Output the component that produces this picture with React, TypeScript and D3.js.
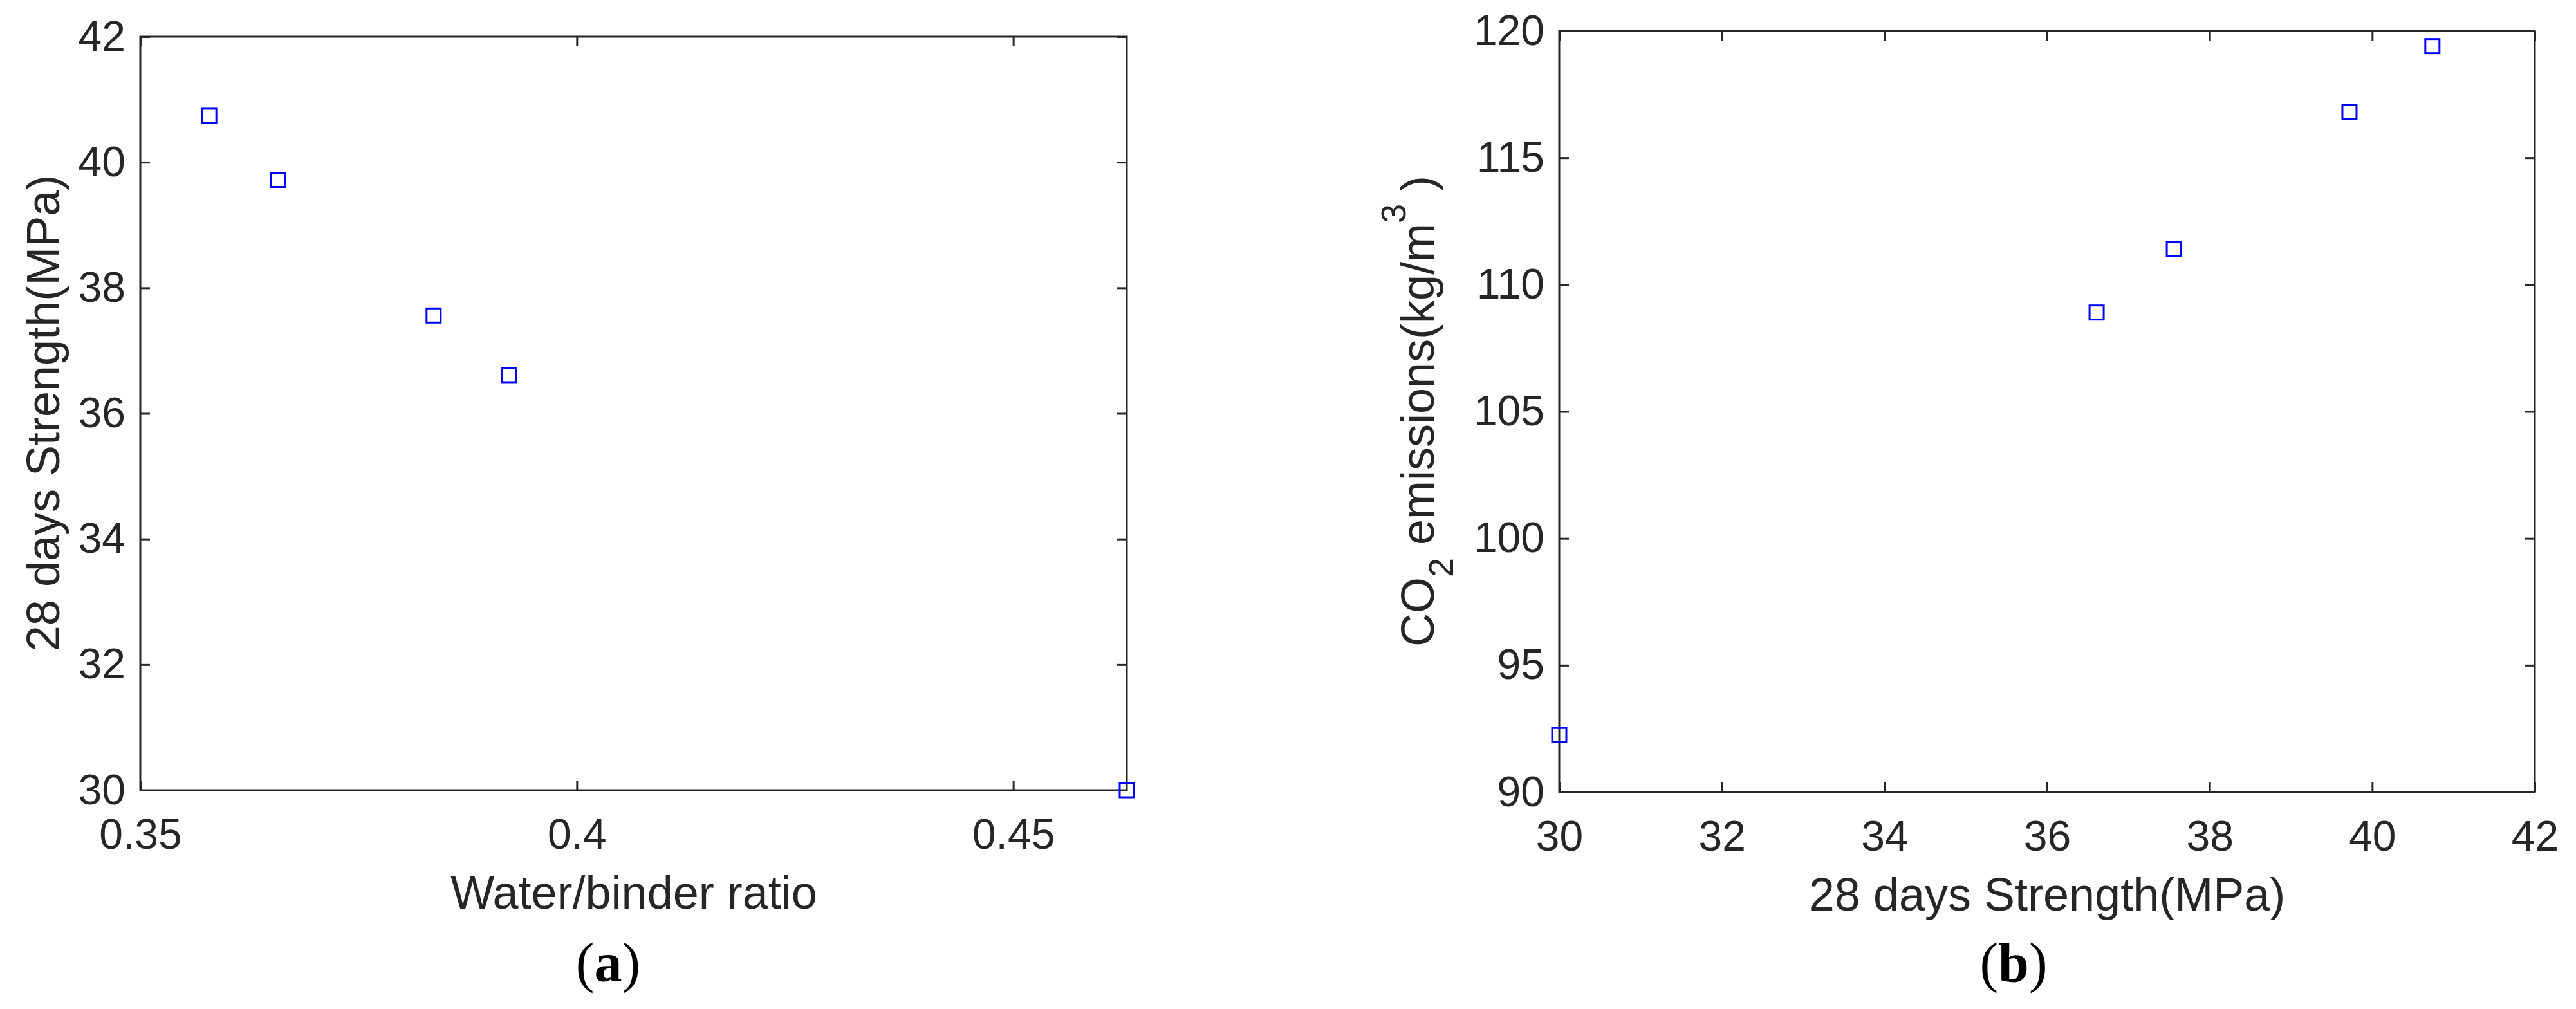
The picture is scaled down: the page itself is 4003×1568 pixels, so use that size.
import * as d3 from "d3";
import { useEffect, useRef } from "react";

// panel (a): water/binder ratio vs 28 day strength
const wbRatio = [0.3579, 0.3658, 0.3836, 0.3922, 0.463];
const strength28 = [40.74, 39.72, 37.56, 36.61, 30.0];
// panel (b): 28 day strength vs CO2 emissions
const co2Emission = [119.4, 116.8, 111.4, 108.9, 92.25];

const xTicksA = [0.35, 0.4, 0.45];
const yTicksA = [30, 32, 34, 36, 38, 40, 42];
const xTicksB = [30, 32, 34, 36, 38, 40, 42];
const yTicksB = [90, 95, 100, 105, 110, 115, 120];

const W = 4003;
const H = 1568;
const axisColor = "#262626";
const fontSans = "'Liberation Sans', Arial, sans-serif";
const fontSerif = "'Liberation Serif', 'Times New Roman', serif";

function drawPanel(
  svg: any,
  box: { left: number; right: number; top: number; bottom: number },
  xDomain: number[],
  yDomain: number[],
  xTicks: number[],
  yTicks: number[],
  xs: number[],
  ys: number[],
  xFmt: (d: any) => string
) {
  const x = d3.scaleLinear().domain(xDomain).range([box.left, box.right]);
  const y = d3.scaleLinear().domain(yDomain).range([box.bottom, box.top]);
  const tick = 15;

  const styleAxis = (g: any) => {
    g.select(".domain").remove();
    g.selectAll("line").attr("stroke", axisColor).attr("stroke-width", 3);
    g.selectAll("text")
      .attr("fill", axisColor)
      .style("font-family", fontSans)
      .style("font-size", "66px");
  };

  svg
    .append("g")
    .attr("transform", `translate(0,${box.bottom})`)
    .call(d3.axisBottom(x).tickValues(xTicks).tickSizeInner(-tick).tickSizeOuter(0).tickPadding(44).tickFormat(xFmt))
    .call(styleAxis);
  svg
    .append("g")
    .attr("transform", `translate(0,${box.top})`)
    .call(d3.axisTop(x).tickValues(xTicks).tickSizeInner(-tick).tickSizeOuter(0).tickFormat(() => ""))
    .call(styleAxis);
  svg
    .append("g")
    .attr("transform", `translate(${box.left},0)`)
    .call(d3.axisLeft(y).tickValues(yTicks).tickSizeInner(-tick).tickSizeOuter(0).tickPadding(23).tickFormat(d3.format("d")))
    .call(styleAxis);
  svg
    .append("g")
    .attr("transform", `translate(${box.right},0)`)
    .call(d3.axisRight(y).tickValues(yTicks).tickSizeInner(-tick).tickSizeOuter(0).tickFormat(() => ""))
    .call(styleAxis);

  // box
  svg
    .append("rect")
    .attr("x", box.left)
    .attr("y", box.top)
    .attr("width", box.right - box.left)
    .attr("height", box.bottom - box.top)
    .attr("fill", "none")
    .attr("stroke", axisColor)
    .attr("stroke-width", 3);

  const size = 22;
  svg
    .append("g")
    .selectAll("rect")
    .data(xs.map((v, i) => [v, ys[i]]))
    .enter()
    .append("rect")
    .attr("x", (d: number[]) => x(d[0]) - size / 2)
    .attr("y", (d: number[]) => y(d[1]) - size / 2)
    .attr("width", size)
    .attr("height", size)
    .attr("fill", "none")
    .attr("stroke", "#0000ff")
    .attr("stroke-width", 3);
}

function Figure() {
  const ref = useRef<SVGSVGElement>(null);

  useEffect(() => {
    const svg = d3.select(ref.current);
    svg.selectAll("*").remove();

    // (a)
    drawPanel(
      svg,
      { left: 218, right: 1751, top: 57, bottom: 1228 },
      [0.35, 0.463],
      [30, 42],
      xTicksA,
      yTicksA,
      wbRatio,
      strength28,
      (d) => String(d)
    );
    // (b)
    drawPanel(
      svg,
      { left: 2423, right: 3939, top: 48, bottom: 1231 },
      [30, 42],
      [90, 120],
      xTicksB,
      yTicksB,
      strength28,
      co2Emission,
      d3.format("d")
    );

    const label = (t: any) =>
      t.attr("fill", axisColor).style("font-family", fontSans).style("font-size", "72px");

    svg.append("text").attr("x", 985).attr("y", 1412).attr("text-anchor", "middle").text("Water/binder ratio").call(label);
    svg
      .append("text")
      .attr("transform", "translate(92,642) rotate(-90)")
      .attr("text-anchor", "middle")
      .text("28 days Strength(MPa)")
      .call(label);

    svg.append("text").attr("x", 3181).attr("y", 1415).attr("text-anchor", "middle").text("28 days Strength(MPa)").call(label);
    const yl = svg
      .append("text")
      .attr("transform", "translate(2228,639) rotate(-90)")
      .attr("text-anchor", "middle")
      .call(label);
    yl.append("tspan").text("CO");
    yl.append("tspan").attr("dy", 30).style("font-size", "54px").text("2");
    yl.append("tspan").attr("dy", -30).text(" emissions(kg/m");
    yl.append("tspan").attr("dy", -44).style("font-size", "54px").text("3");
    yl.append("tspan").attr("dy", 44).text(" )");

    // captions
    const cap = (x: number, letter: string) => {
      const el = svg
        .append("text")
        .attr("x", x)
        .attr("y", 1525)
        .attr("text-anchor", "middle")
        .attr("fill", "#000")
        .style("font-family", fontSerif)
        .style("font-size", "86px");
      el.append("tspan").text("(");
      el.append("tspan").style("font-weight", "bold").text(letter);
      el.append("tspan").text(")");
    };
    cap(945, "a");
    cap(3129, "b");
  }, []);

  return (
    <svg
      ref={ref}
      width={W}
      height={H}
      style={{ position: "absolute", left: 0, top: 0, background: "#fff" }}
    ></svg>
  );
}

export default function App() {
  return <Figure />;
}
